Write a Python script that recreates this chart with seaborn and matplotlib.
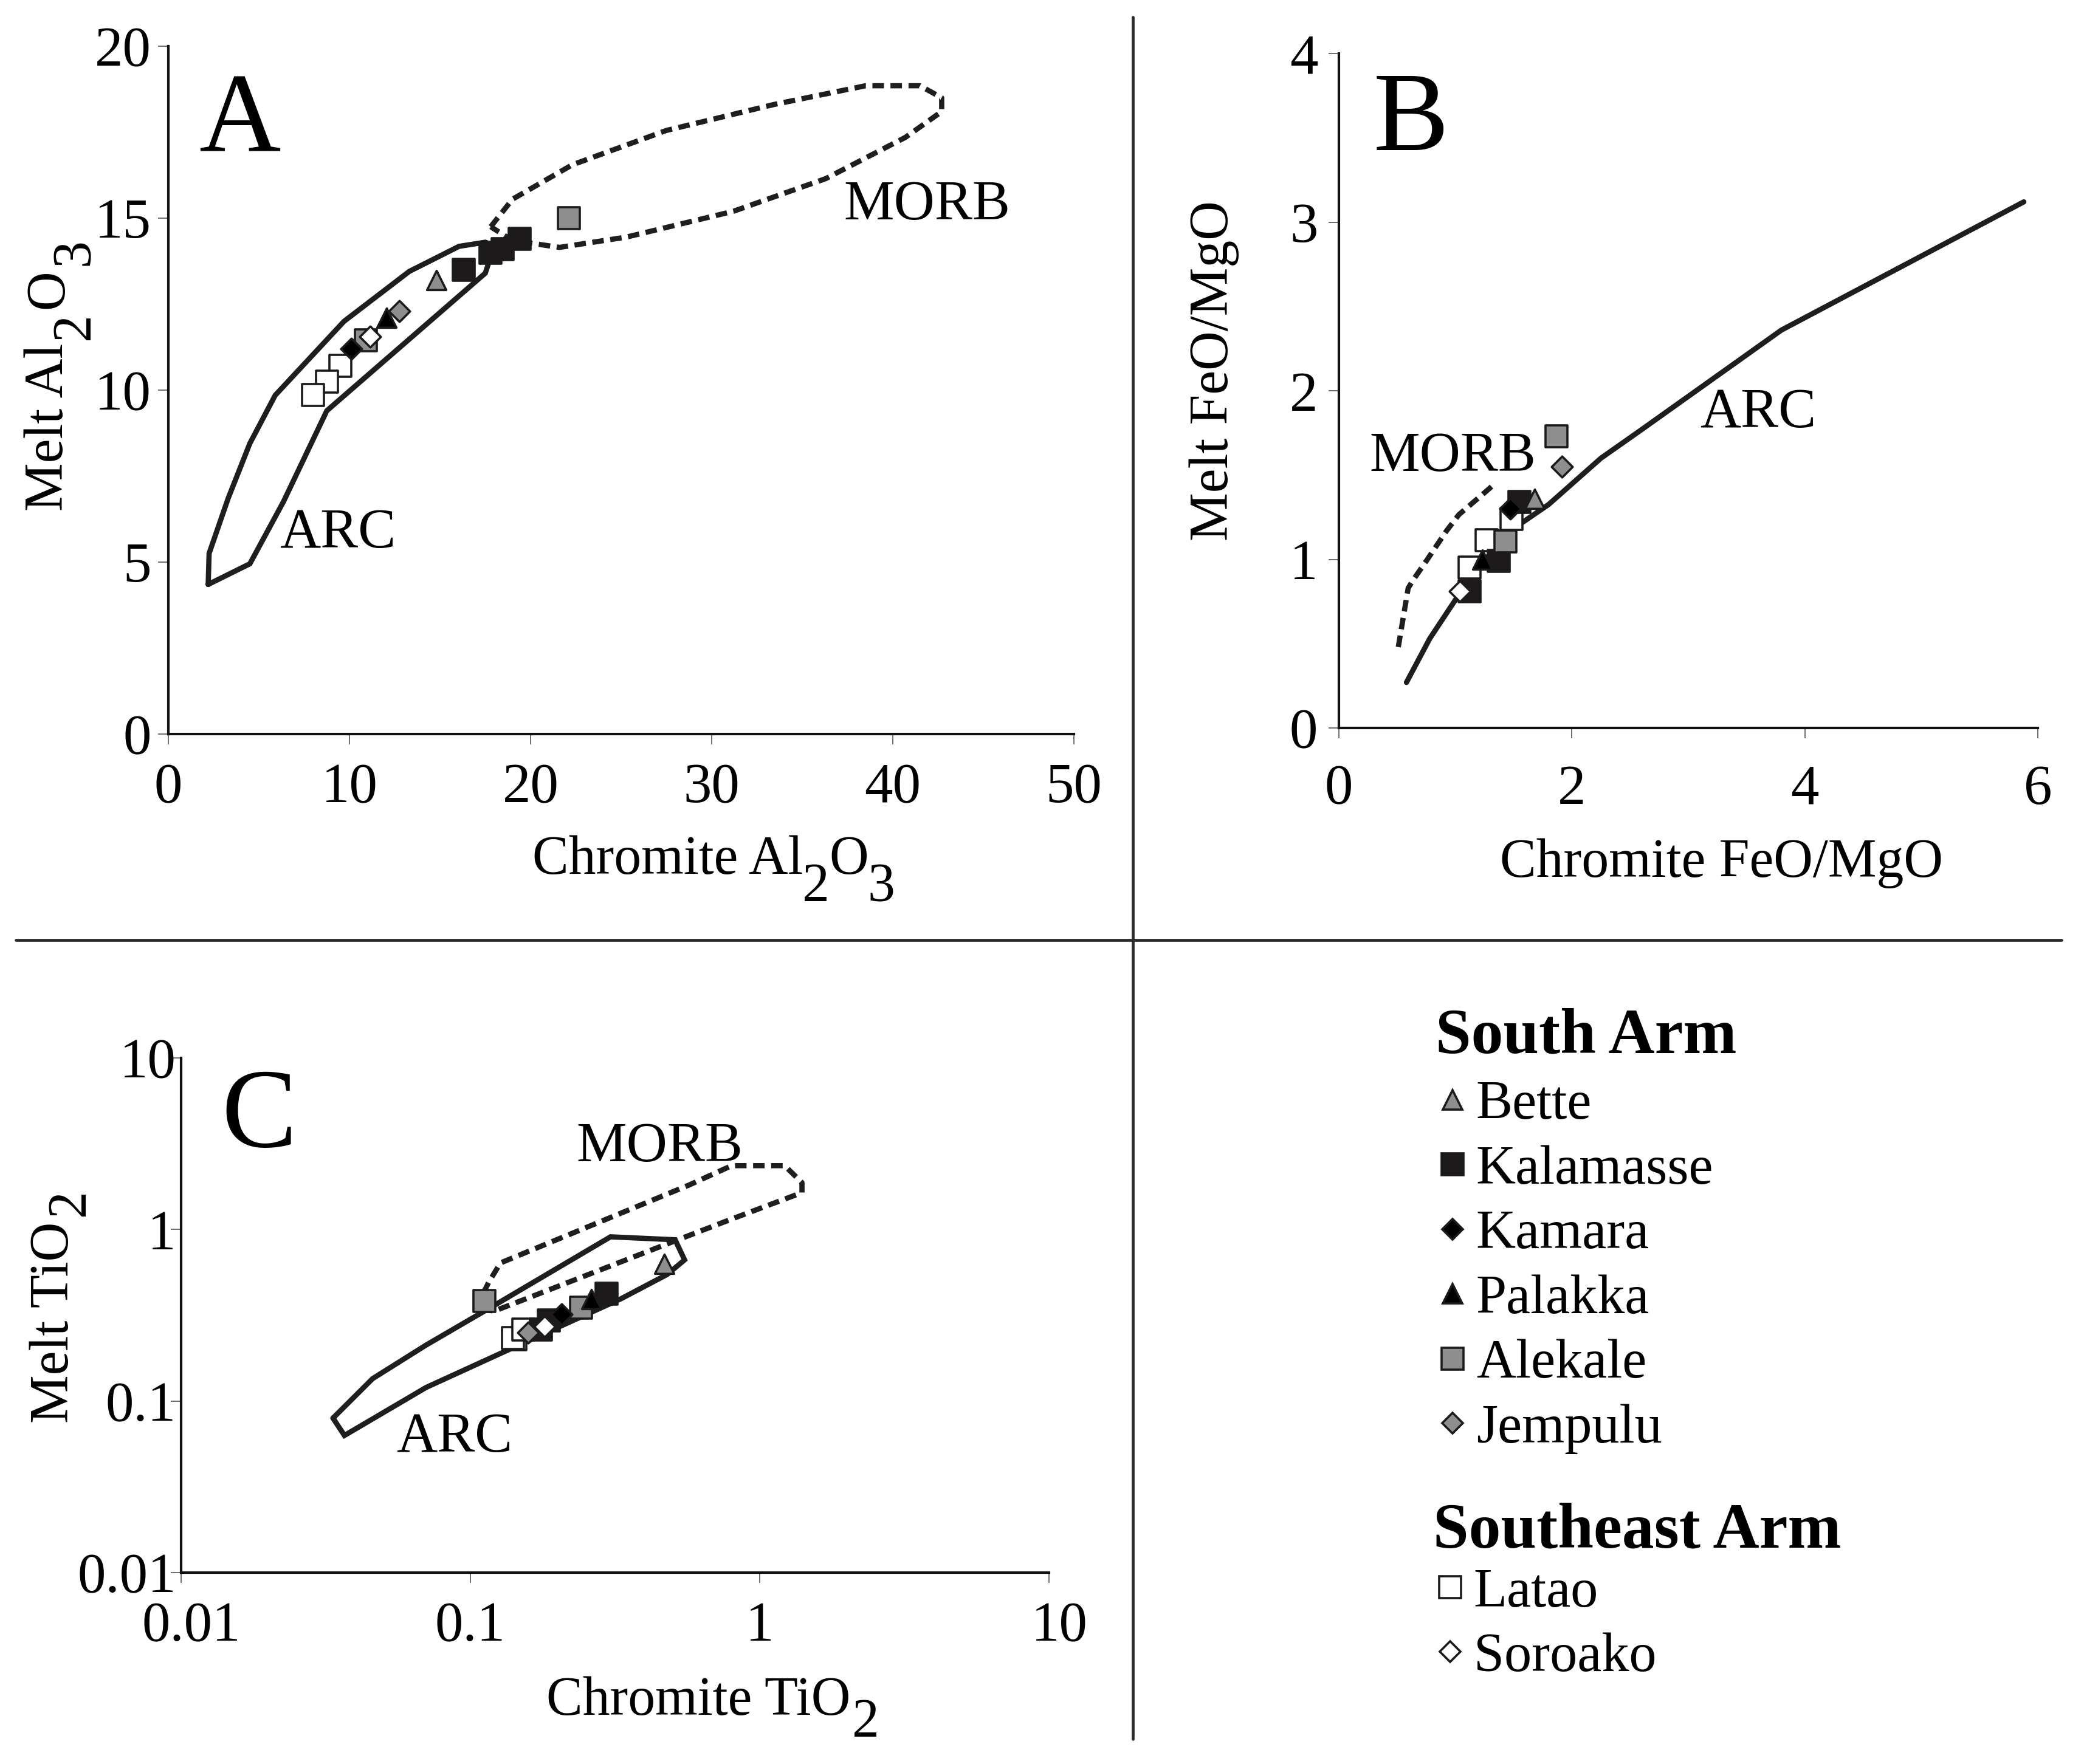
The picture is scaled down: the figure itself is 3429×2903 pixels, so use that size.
import matplotlib
matplotlib.use("Agg")
import matplotlib.pyplot as plt
from matplotlib.lines import Line2D
from matplotlib.ticker import FixedLocator, FixedFormatter, NullLocator
from matplotlib.transforms import ScaledTranslation
import seaborn as sns

W, H = 3429, 2903
DPI = 100

# ---------- Panel A data ----------
A_ARC_X = [2.2, 2.25, 3.3, 4.5, 5.9, 9.7, 13.3, 16.05, 17.5, 18.0, 17.5, 8.75, 6.35, 4.5, 2.2]
A_ARC_Y = [4.35, 5.25, 6.85, 8.45, 9.85, 12.0, 13.45, 14.18, 14.3, 14.2, 13.4, 9.4, 6.75, 4.95, 4.35]
A_MORB_X = [17.8, 19.0, 22.3, 27.5, 33.4, 38.5, 41.5, 42.7, 42.7, 40.7, 36.3, 31.2, 25.3, 21.6, 19.0, 17.8]
A_MORB_Y = [14.75, 15.55, 16.55, 17.55, 18.3, 18.85, 18.85, 18.5, 18.1, 17.35, 16.15, 15.2, 14.45, 14.15, 14.35, 14.75]
A_LATAO_X = [9.5, 8.75, 8.0]
A_LATAO_Y = [10.7, 10.25, 9.85]
A_KALAMASSE_X = [19.4, 18.45, 17.8, 16.3]
A_KALAMASSE_Y = [14.4, 14.1, 14.0, 13.5]
A_ALEKALE_X = [22.1, 10.9]
A_ALEKALE_Y = [15.0, 11.45]
A_KAMARA_X = [10.1]
A_KAMARA_Y = [11.2]
A_PALAKKA_X = [12.05]
A_PALAKKA_Y = [12.1]
A_BETTE_X = [14.8]
A_BETTE_Y = [13.2]
A_JEMPULU_X = [12.75]
A_JEMPULU_Y = [12.3]
A_SOROAKO_X = [11.15]
A_SOROAKO_Y = [11.55]

# ---------- Panel B data ----------
B_ARC_X = [0.58, 0.78, 1.01, 1.42, 1.80, 2.25, 2.6, 3.80, 5.88]
B_ARC_Y = [0.27, 0.53, 0.77, 1.145, 1.325, 1.6, 1.77, 2.36, 3.12]
B_MORB_X = [0.51, 0.595, 0.65, 0.75, 0.925, 1.03, 1.275, 1.34]
B_MORB_Y = [0.48, 0.83, 0.89, 0.99, 1.17, 1.265, 1.41, 1.45]
B_LATAO_X = [1.48, 1.27, 1.12]
B_LATAO_Y = [1.24, 1.115, 0.95]
B_KALAMASSE_X = [1.55, 1.37, 1.12]
B_KALAMASSE_Y = [1.34, 0.99, 0.81]
B_ALEKALE_X = [1.87, 1.43]
B_ALEKALE_Y = [1.73, 1.105]
B_KAMARA_X = [1.47]
B_KAMARA_Y = [1.30]
B_PALAKKA_X = [1.23]
B_PALAKKA_Y = [1.0]
B_BETTE_X = [1.68]
B_BETTE_Y = [1.36]
B_JEMPULU_X = [1.915]
B_JEMPULU_Y = [1.55]
B_SOROAKO_X = [1.04]
B_SOROAKO_Y = [0.81]

# ---------- Panel C data ----------
C_ARC_X = [0.0335, 0.0367, 0.0703, 0.1337, 0.331, 0.479, 0.55, 0.51, 0.305, 0.1236, 0.0703, 0.0459, 0.0335]
C_ARC_Y = [0.0795, 0.063, 0.12, 0.197, 0.394, 0.547, 0.665, 0.871, 0.906, 0.369, 0.212, 0.135, 0.0795]
C_MORB_X = [0.104, 0.1156, 0.127, 0.57, 0.8, 1.22, 1.40, 1.40, 0.789, 0.448, 0.136, 0.121, 0.104]
C_MORB_Y = [0.343, 0.491, 0.638, 1.816, 2.355, 2.355, 1.875, 1.64, 1.14, 0.789, 0.361, 0.335, 0.343]
C_LATAO_X = [0.143, 0.14, 0.152]
C_LATAO_Y = [0.23, 0.232, 0.262]
C_KALAMASSE_X = [0.175, 0.187, 0.295]
C_KALAMASSE_Y = [0.262, 0.294, 0.421]
C_ALEKALE_X = [0.112, 0.241]
C_ALEKALE_Y = [0.382, 0.349]
C_KAMARA_X = [0.207]
C_KAMARA_Y = [0.319]
C_PALAKKA_X = [0.262]
C_PALAKKA_Y = [0.394]
C_BETTE_X = [0.468]
C_BETTE_Y = [0.628]
C_JEMPULU_X = [0.158]
C_JEMPULU_Y = [0.251]
C_SOROAKO_X = [0.18]
C_SOROAKO_Y = [0.273]

# ---------- Labels ----------
A_X_TICKS = [0, 10, 20, 30, 40, 50]
A_Y_TICKS = [0, 5, 10, 15, 20]
B_X_TICKS = [0, 2, 4, 6]
B_Y_TICKS = [0, 1, 2, 3, 4]
C_TICKS = [0.01, 0.1, 1, 10]
C_TICK_LABELS = ["0.01", "0.1", "1", "10"]
SOUTH_ARM = ["Bette", "Kalamasse", "Kamara", "Palakka", "Alekale", "Jempulu"]
SOUTHEAST_ARM = ["Latao", "Soroako"]
A_XLABEL = [("Chromite Al", 0), ("2", 1), ("O", 0), ("3", 1)]
A_YLABEL = [("Melt Al", 0), ("2", 1), ("O", 0), ("3", 1)]
C_XLABEL = [("Chromite TiO", 0), ("2", 1)]
C_YLABEL = [("Melt TiO", 0), ("2", 1)]

# ---------- Styles ----------
BLACK = "#1c1a1a"
GREY = "#8e8e8e"
STYLE = {
    "Latao": ("s", "white", 640),
    "Kalamasse": ("s", BLACK, 640),
    "Alekale": ("s", GREY, 640),
    "Kamara": ("D", "black", 310),
    "Palakka": ("^", "black", 520),
    "Bette": ("^", GREY, 520),
    "Jempulu": ("D", GREY, 310),
    "Soroako": ("D", "white", 310),
}
EDGE_W = 2.6

sns.set_style("white")
plt.rcParams["font.family"] = ["Liberation Serif", "DejaVu Serif"]
plt.rcParams["text.color"] = "black"
plt.rcParams["axes.labelcolor"] = "black"

fig = plt.figure(figsize=(W / DPI, H / DPI), dpi=DPI, facecolor="white")
TICK_PT = 67
LABEL_PT = 64.5


def make_axes(x0, y0, x1, y1, xpad, ypad):
    ax = fig.add_axes([x0 / W, 1 - y0 / H, (x1 - x0) / W, (y0 - y1) / H])
    ax.set_facecolor("none")
    sns.despine(ax=ax)
    for side in ("left", "bottom"):
        ax.spines[side].set_linewidth(3.0)
        ax.spines[side].set_color("#111111")
    ax.tick_params(axis="both", which="major", length=12, width=1.2, color="#555555",
                   labelsize=TICK_PT, labelcolor="black", left=True, bottom=True)
    ax.tick_params(axis="x", pad=xpad)
    ax.tick_params(axis="y", pad=ypad)
    return ax


def outline(ax, xs, ys, dashed=False):
    kw = {"linestyle": (0, (2.2, 1.25)), "dash_capstyle": "butt"} if dashed else {"solid_joinstyle": "miter"}
    sns.lineplot(x=xs, y=ys, sort=False, estimator=None, color="#1e1e1e", linewidth=6.2, ax=ax, **kw)


def points(ax, name, xs, ys):
    marker, face, size = STYLE[name]
    sns.scatterplot(x=xs, y=ys, marker=marker, color=face, s=size, edgecolor=BLACK,
                    linewidth=EDGE_W, ax=ax, zorder=5, legend=False, clip_on=False)


def chain_label(ax, which, pieces, x, y, sub_drop, gap):
    """Lay out a label with full-size, strongly dropped subscripts, as in the source figure."""
    renderer = fig.canvas.get_renderer()
    vertical = which == "y"
    for i, (txt, is_sub) in enumerate(pieces):
        px = x + (sub_drop if (is_sub and vertical) else 0)
        py = y + (sub_drop if (is_sub and not vertical) else 0)
        kw = dict(fontsize=LABEL_PT, ha="left", va="baseline", rotation_mode="anchor",
                  rotation=90 if vertical else 0)
        if i == 0:
            t = ax.set_ylabel(txt, **kw) if vertical else ax.set_xlabel(txt, **kw)
            axis = ax.yaxis if vertical else ax.xaxis
            axis.set_label_coords(px / W, 1 - py / H, transform=fig.transFigure)
        else:
            t = fig.text(px / W, 1 - py / H, txt, **kw)
        box = t.get_window_extent(renderer)
        if vertical:
            y -= box.height + gap
        else:
            x += box.width + gap


def plain_label(ax, xtext, xpos, ytext, ypos):
    ax.set_xlabel(xtext, fontsize=LABEL_PT, va="center", ha="center")
    ax.set_ylabel(ytext, fontsize=LABEL_PT, va="center", ha="center")
    ax.xaxis.set_label_coords(xpos[0] / W, 1 - xpos[1] / H, transform=fig.transFigure)
    ax.yaxis.set_label_coords(ypos[0] / W, 1 - ypos[1] / H, transform=fig.transFigure)


def place(txt, x, y, size=67):
    fig.text(x / W, 1 - y / H, txt, fontsize=size, ha="center", va="center")


# Panel A
axA = make_axes(277, 1208, 1767, 76, 22, 8)
outline(axA, A_ARC_X, A_ARC_Y)
outline(axA, A_MORB_X, A_MORB_Y, dashed=True)
points(axA, "Latao", A_LATAO_X, A_LATAO_Y)
points(axA, "Kalamasse", A_KALAMASSE_X, A_KALAMASSE_Y)
points(axA, "Alekale", A_ALEKALE_X, A_ALEKALE_Y)
points(axA, "Kamara", A_KAMARA_X, A_KAMARA_Y)
points(axA, "Palakka", A_PALAKKA_X, A_PALAKKA_Y)
points(axA, "Bette", A_BETTE_X, A_BETTE_Y)
points(axA, "Jempulu", A_JEMPULU_X, A_JEMPULU_Y)
points(axA, "Soroako", A_SOROAKO_X, A_SOROAKO_Y)
axA.set_xlim(0, 50)
axA.set_ylim(0, 20)
axA.set_xticks(A_X_TICKS)
axA.set_yticks(A_Y_TICKS)
chain_label(axA, "x", A_XLABEL, 876, 1438, 45, -1)
chain_label(axA, "y", A_YLABEL, 103, 841, 43, 6)

# Panel B
axB = make_axes(2203, 1198, 3353, 88, 31, 13)
outline(axB, B_ARC_X, B_ARC_Y)
outline(axB, B_MORB_X, B_MORB_Y, dashed=True)
points(axB, "Latao", B_LATAO_X, B_LATAO_Y)
points(axB, "Kalamasse", B_KALAMASSE_X, B_KALAMASSE_Y)
points(axB, "Alekale", B_ALEKALE_X, B_ALEKALE_Y)
points(axB, "Kamara", B_KAMARA_X, B_KAMARA_Y)
points(axB, "Palakka", B_PALAKKA_X, B_PALAKKA_Y)
points(axB, "Bette", B_BETTE_X, B_BETTE_Y)
points(axB, "Jempulu", B_JEMPULU_X, B_JEMPULU_Y)
points(axB, "Soroako", B_SOROAKO_X, B_SOROAKO_Y)
axB.set_xlim(0, 6)
axB.set_ylim(0, 4)
axB.set_xticks(B_X_TICKS)
axB.set_yticks(B_Y_TICKS)
plain_label(axB, "Chromite FeO/MgO", (2832, 1421), "Melt FeO/MgO", (1998, 610))

# Panel C
axC = make_axes(298, 2588, 1726, 1741, 22, -6)
outline(axC, C_ARC_X, C_ARC_Y)
outline(axC, C_MORB_X, C_MORB_Y, dashed=True)
points(axC, "Latao", C_LATAO_X, C_LATAO_Y)
points(axC, "Kalamasse", C_KALAMASSE_X, C_KALAMASSE_Y)
points(axC, "Alekale", C_ALEKALE_X, C_ALEKALE_Y)
points(axC, "Kamara", C_KAMARA_X, C_KAMARA_Y)
points(axC, "Palakka", C_PALAKKA_X, C_PALAKKA_Y)
points(axC, "Bette", C_BETTE_X, C_BETTE_Y)
points(axC, "Jempulu", C_JEMPULU_X, C_JEMPULU_Y)
points(axC, "Soroako", C_SOROAKO_X, C_SOROAKO_Y)
axC.set_xscale("log")
axC.set_yscale("log")
axC.set_xlim(0.01, 10)
axC.set_ylim(0.01, 10)
for axis in (axC.xaxis, axC.yaxis):
    axis.set_major_locator(FixedLocator(C_TICKS))
    axis.set_major_formatter(FixedFormatter(C_TICK_LABELS))
    axis.set_minor_locator(NullLocator())
chain_label(axC, "x", C_XLABEL, 899, 2822, 36, 3)
chain_label(axC, "y", C_YLABEL, 112, 2342, 26, 10)
_shift = ScaledTranslation(17 / DPI, 0, fig.dpi_scale_trans)
_ticks = axC.xaxis.get_major_ticks()
for i in (0, 3):
    lab = _ticks[i].label1
    lab.set_transform(lab.get_transform() + _shift)

# Panel letters and field names
place("A", 394, 205, 134)
place("B", 2322, 202, 134)
place("C", 426, 1842, 134)
place("MORB", 1525, 338)
place("ARC", 556, 879)
place("MORB", 2390, 752)
place("ARC", 2893, 680)
place("MORB", 1085, 1889)
place("ARC", 748, 2366)


# Legends
def handles(names):
    out = []
    for name in names:
        marker, face, size = STYLE[name]
        out.append(Line2D([], [], linestyle="none", marker=marker, markerfacecolor=face,
                          markeredgecolor=BLACK, markeredgewidth=EDGE_W, markersize=size ** 0.5))
    return out


def arm_legend(names, title, x, y, title_gap):
    leg = fig.legend(handles(names), names, title=title, loc="upper left",
                     bbox_to_anchor=(x / W, 1 - y / H), bbox_transform=fig.transFigure,
                     frameon=False, fontsize=65, labelspacing=0.265, handlelength=0.62,
                     handletextpad=0.12, borderpad=0, borderaxespad=0, alignment="left",
                     title_fontproperties={"size": 76, "weight": "bold", "family": "Liberation Serif"})
    leg._legend_box.sep = title_gap
    return leg


arm_legend(SOUTH_ARM, "South Arm", 2362, 1659, 15.8)
arm_legend(SOUTHEAST_ARM, "Southeast Arm", 2358, 2472, 8)

# Panel dividers
fig.add_artist(Line2D([1864 / W, 1864 / W], [1 - 28 / H, 1 - 2862 / H], color="#2a2a2a", linewidth=3.4))
fig.add_artist(Line2D([26 / W, 3392 / W], [1 - 1547 / H, 1 - 1547 / H], color="#2a2a2a", linewidth=3.4))

fig.savefig("out.png", dpi=DPI, facecolor="white")
